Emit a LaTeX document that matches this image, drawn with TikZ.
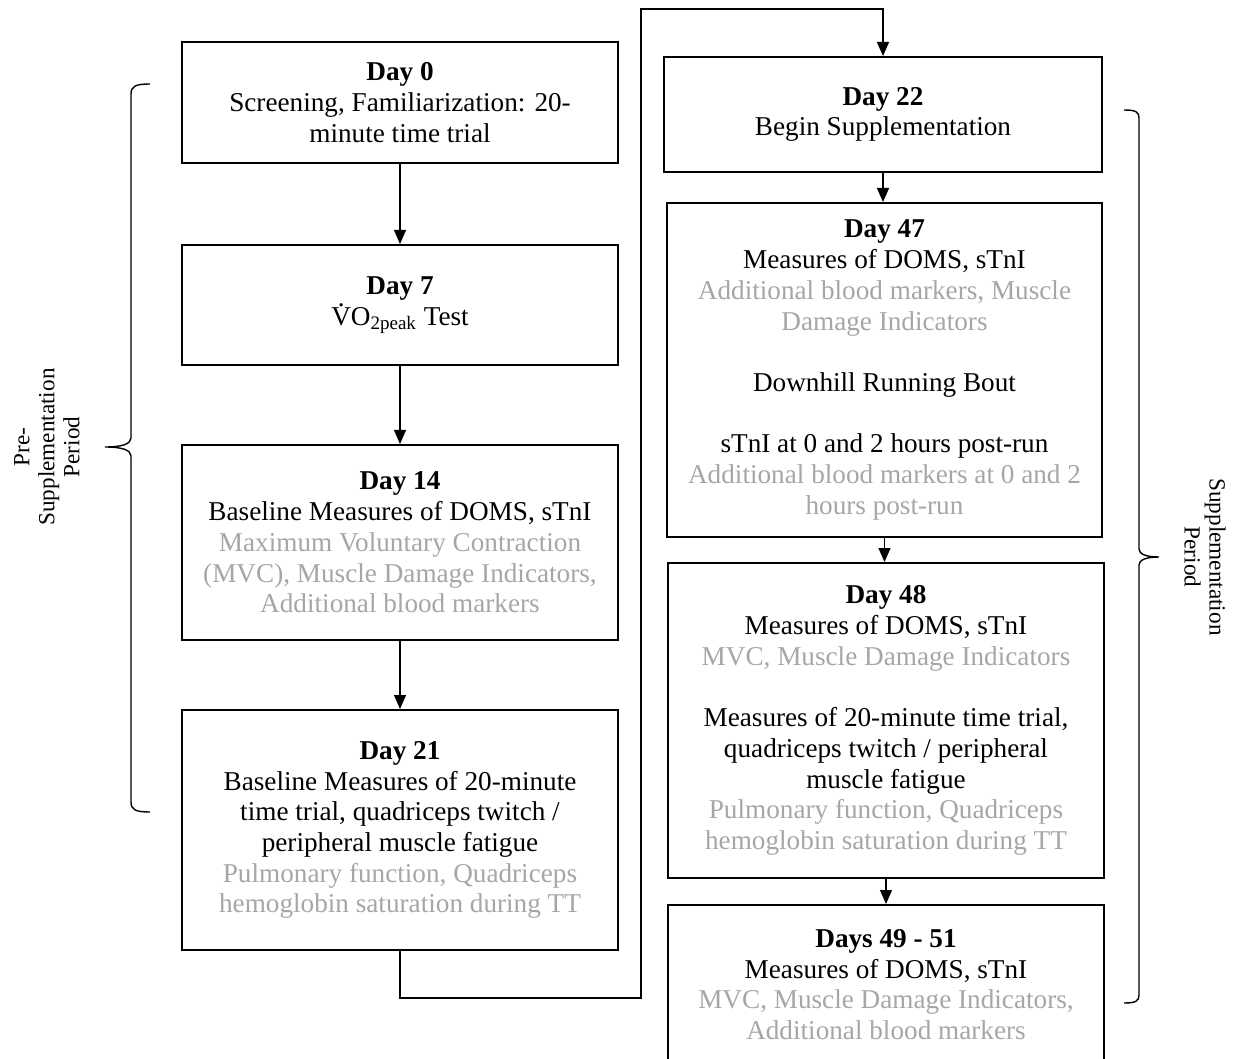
\documentclass[tikz,border=0pt]{standalone}
\usepackage{fontspec}
\setmainfont{Liberation Serif}
\usepackage{amsmath}
\usetikzlibrary{arrows.meta}

\definecolor{faintgray}{RGB}{166,166,166}
\newcommand{\faint}[1]{\textcolor{faintgray}{#1}}
\newcommand{\dotV}{\rlap{\hspace{0.24em}\raisebox{0.68em}{.}}V}

\begin{document}
\begin{tikzpicture}[x=0.5pt, y=-0.5pt,
		daybox/.style={draw, line width=1pt, inner sep=0pt, align=center,
			font=\fontsize{13.6}{15.35}\selectfont},
		link/.style={line width=0.6pt, -{Triangle[length=7pt,width=6pt]}},
		bracket/.style={line width=0.7pt},
		period/.style={align=center, font=\fontsize{11.6}{12.5}\selectfont}]
		\useasboundingbox (0,0) rectangle (1238,1059);

		% left column
		\node[daybox, minimum width=218pt, minimum height=60.5pt] (D0) at (400,102.5)
			{\textbf{Day 0}\\Screening, Familiarization: 20-\\minute time trial};
		\node[daybox, minimum width=218pt, minimum height=60pt] (D7) at (400,305)
			{\textbf{Day 7}\\\dotV O\textsubscript{2peak} Test};
		\node[daybox, minimum width=218pt, minimum height=97.5pt] (D14) at (400,542.5)
			{\textbf{Day 14}\\Baseline Measures of DOMS, sTnI\\
			\faint{Maximum Voluntary Contraction}\\
			\faint{(MVC), Muscle Damage Indicators,}\\
			\faint{Additional blood markers}};
		\node[daybox, minimum width=218pt, minimum height=120pt] (D21) at (400,830)
			{\textbf{Day 21}\\Baseline Measures of 20-minute\\
			time trial, quadriceps twitch /\\peripheral muscle fatigue\\
			\faint{Pulmonary function, Quadriceps}\\
			\faint{hemoglobin saturation during TT}};

		% right column
		\node[daybox, minimum width=219pt, minimum height=57.5pt] (D22) at (883,114.5)
			{\textbf{Day 22}\\Begin Supplementation};
		\node[daybox, minimum width=217.5pt, minimum height=167pt] (D47) at (884.5,370)
			{\textbf{Day 47}\\Measures of DOMS, sTnI\\
			\faint{Additional blood markers, Muscle}\\
			\faint{Damage Indicators}\\[15.35pt]
			Downhill Running Bout\\[15.35pt]
			sTnI at 0 and 2 hours post-run\\
			\faint{Additional blood markers at 0 and 2}\\
			\faint{hours post-run}};
		\node[daybox, minimum width=218pt, minimum height=157.5pt] (D48) at (886,720.5)
			{\textbf{Day 48}\\Measures of DOMS, sTnI\\
			\faint{MVC, Muscle Damage Indicators}\\[15.35pt]
			Measures of 20-minute time trial,\\
			quadriceps twitch / peripheral\\muscle fatigue\\
			\faint{Pulmonary function, Quadriceps}\\
			\faint{hemoglobin saturation during TT}};
		\node[daybox, minimum width=218pt, minimum height=79.5pt] (D49) at (886,984.5)
			{\textbf{Days 49 - 51}\\Measures of DOMS, sTnI\\
			\faint{MVC, Muscle Damage Indicators,}\\
			\faint{Additional blood markers}};

		% arrows
		\draw[link] (D0.south) -- (D7.north);
		\draw[link] (D7.south) -- (D14.north);
		\draw[link] (D14.south) -- (D21.north);
		\coordinate (turnA) at (641,998);
		\coordinate (turnB) at (641,9);
		\draw[link] (D21.south) |- (turnA) -- (turnB) -| (D22.north);
		\draw[link] (D22.south) -- (D22.south |- D47.north);
		\draw[link] (D47.south) -- (D47.south |- D48.north);
		\draw[link] (D48.south) -- (D48.south |- D49.north);

		% braces
		\draw[bracket] (150,84) .. controls (136,84) and (131,86) .. (131,94) -- (131,438)
			.. controls (131,444) and (122,447) .. (105,447)
			.. controls (122,447) and (131,450) .. (131,456) -- (131,802)
			.. controls (131,810) and (136,812) .. (150,812);
		\draw[bracket] (1124,110) .. controls (1136,110) and (1139,112) .. (1139,118) -- (1139,549)
			.. controls (1139,554) and (1146,557) .. (1159,557)
			.. controls (1146,557) and (1139,560) .. (1139,565) -- (1139,995)
			.. controls (1139,1001) and (1136,1003) .. (1124,1003);
		\node[period, rotate=90] (prePeriod) at (47,447) {Pre-\\Supplementation\\Period};
		\node[period, rotate=-90] (supPeriod) at (1205,557) {Supplementation\\Period};
	\end{tikzpicture}
\end{document}
